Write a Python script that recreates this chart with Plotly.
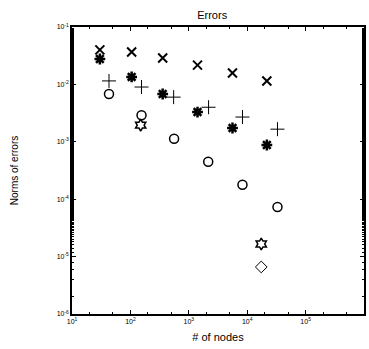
import plotly.graph_objects as go

# Data (log-log)
nodes_x = [30, 105, 357, 1410, 5600, 21700]
err_x = [0.040, 0.0367, 0.0288, 0.0217, 0.0158, 0.0115]

nodes_star = [30, 105, 357, 1410, 5600, 21700]
err_star = [0.0277, 0.0135, 0.0068, 0.0033, 0.00174, 0.00088]

nodes_plus = [43, 155, 550, 2180, 8300, 33000]
err_plus = [0.0115, 0.0090, 0.0060, 0.0040, 0.0027, 0.00166]

nodes_circle = [43, 155, 560, 2150, 8300, 33000]
err_circle = [0.0068, 0.0029, 0.00113, 0.00045, 0.000178, 0.000073]

nodes_hex = [150, 17400]
err_hex = [0.00195, 0.0000166]

nodes_diamond = [17400]
err_diamond = [0.0000066]

x_tickvals = [1e1, 1e2, 1e3, 1e4, 1e5, 1e6]
x_ticktext = ["10<sup>1</sup>", "10<sup>2</sup>", "10<sup>3</sup>", "10<sup>4</sup>", "10<sup>5</sup>", "10<sup>6</sup>"]
y_tickvals = [1e-6, 1e-5, 1e-4, 1e-3, 1e-2, 1e-1]
y_ticktext = ["10<sup>-6</sup>", "10<sup>-5</sup>", "10<sup>-4</sup>", "10<sup>-3</sup>", "10<sup>-2</sup>", "10<sup>-1</sup>"]

series = [
    (nodes_x, err_x, "x-thin-open", 9, 2),
    (nodes_star, err_star, "asterisk-open", 9, 2.5),
    (nodes_plus, err_plus, "cross-thin-open", 10, 1),
    (nodes_circle, err_circle, "circle-open", 9, 1.5),
    (nodes_hex, err_hex, "hexagram-open", 9, 1.5),
    (nodes_diamond, err_diamond, "diamond-open", 9, 1),
]

fig = go.Figure()
for xs, ys, sym, size, lw in series:
    fig.add_trace(go.Scatter(
        x=xs, y=ys, mode="markers",
        marker=dict(symbol=sym, size=size, color="black",
                    line=dict(color="black", width=lw)),
        showlegend=False, cliponaxis=False,
    ))

axis_common = dict(
    type="log", showgrid=False, zeroline=False, automargin=False,
    showline=True, linecolor="black", linewidth=1.5, mirror="allticks",
    ticks="inside", ticklen=4, tickcolor="black",
    minor=dict(ticks="inside", ticklen=2, tickcolor="black", showgrid=False),
    tickfont=dict(family="Liberation Sans", size=7, color="black"),
)

fig.update_xaxes(range=[1, 6], tickvals=x_tickvals, ticktext=x_ticktext,
                 title=dict(text="# of nodes", font=dict(family="Liberation Sans", size=11, color="black"), standoff=9),
                 **axis_common)
fig.update_yaxes(range=[-6, -1], tickvals=y_tickvals, ticktext=y_ticktext,
                 title=dict(text="Norms of errors", font=dict(family="Liberation Sans", size=10, color="black"), standoff=36),
                 **axis_common)

fig.update_layout(
    width=369, height=347,
    margin=dict(l=72, r=5, t=27, b=33),
    paper_bgcolor="white", plot_bgcolor="white",
    title=dict(text="Errors", x=0.575, xanchor="center", y=0.957, yanchor="middle",
               font=dict(family="Liberation Sans", size=11, color="black")),
)

# remove the default page margin and scrollbars so the figure fills the window
fig.write_html(
    "out.html", config={"displayModeBar": False},
    post_script=("document.documentElement.style.overflow='hidden';"
                 "document.body.style.margin='0';document.body.style.overflow='hidden';"),
)
